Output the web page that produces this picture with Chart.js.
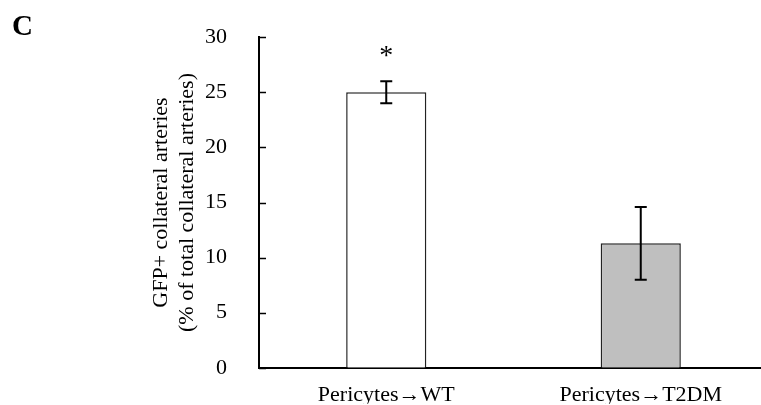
<!DOCTYPE html>
<html>
<head>
<meta charset="utf-8">
<script src="https://cdn.jsdelivr.net/npm/chart.js@4"></script>
<style>
  html, body { margin: 0; padding: 0; background: #fff; overflow: hidden; }
  #wrap { width: 768px; height: 405px; }
</style>
</head>
<body>
<div id="wrap"><canvas id="myChart" width="768" height="405"></canvas></div>
<script>
const categories = ['Pericytes\u2192WT', 'Pericytes\u2192T2DM']
const means = [25.0, 11.3]
const errors = [1.0, 3.3]
const marks = ['*', '']
const yMin = 0
const yMax = 30
const yStep = 5

const serif = "'Liberation Serif', 'DejaVu Serif', serif"

// error bars, significance marks, inward ticks and panel letter
const extras = {
  id: 'extras',
  afterDatasetsDraw(chart) {
    const ctx = chart.ctx
    const x = chart.scales.x
    const y = chart.scales.y
    ctx.save()
    ctx.strokeStyle = '#000'
    ctx.lineWidth = 2
    means.forEach(function (m, i) {
      const cx = x.getPixelForValue(i)
      const top = y.getPixelForValue(m + errors[i])
      const bot = y.getPixelForValue(m - errors[i])
      ctx.beginPath()
      ctx.moveTo(cx, top); ctx.lineTo(cx, bot)
      ctx.moveTo(cx - 6, top); ctx.lineTo(cx + 6, top)
      ctx.moveTo(cx - 6, bot); ctx.lineTo(cx + 6, bot)
      ctx.stroke()
      if (marks[i]) {
        ctx.fillStyle = '#000'
        ctx.font = '28px ' + serif
        ctx.textAlign = 'center'
        ctx.textBaseline = 'alphabetic'
        ctx.fillText(marks[i], cx, top - 17)
      }
    })
    // inward tick marks
    ctx.lineWidth = 1.5
    y.ticks.forEach(function (t) {
      const py = Math.round(y.getPixelForValue(t.value)) + 0.5
      ctx.beginPath()
      ctx.moveTo(chart.chartArea.left, py)
      ctx.lineTo(chart.chartArea.left + 7, py)
      ctx.stroke()
    })
    ctx.fillStyle = '#000'
    ctx.font = 'bold 29px ' + serif
    ctx.textAlign = 'left'
    ctx.textBaseline = 'alphabetic'
    ctx.fillText('C', 12, 35)
    ctx.restore()
  }
}

const ctx = document.getElementById('myChart').getContext('2d')
const chart = new Chart(ctx, {
  type: 'bar',
  data: {
    labels: categories,
    datasets: [{
      data: means,
      backgroundColor: ['#ffffff', '#bfbfbf'],
      borderColor: '#222222',
      borderWidth: 1.5,
      borderSkipped: 'bottom',
      barPercentage: 0.315,
      categoryPercentage: 1
    }]
  },
  options: {
    responsive: false,
    animation: false,
    layout: { padding: { left: 148, top: 25, right: 0, bottom: 0 } },
    plugins: { legend: { display: false }, tooltip: { enabled: false } },
    scales: {
      x: {
        grid: { display: false },
        border: { color: '#000', width: 2 },
        ticks: { color: '#000', font: { family: serif, size: 22 }, padding: 6 },
        afterFit: function (scale) { scale.height = 36 }
      },
      y: {
        min: yMin,
        max: yMax,
        grid: { display: false },
        border: { color: '#000', width: 2 },
        ticks: { stepSize: yStep, color: '#000', font: { family: serif, size: 22 }, padding: 24 },
        title: {
          display: true,
          text: ['GFP+ collateral arteries', '(% of total collateral arteries)'],
          color: '#000',
          font: { family: serif, size: 22, lineHeight: 1.2 },
          padding: { top: 0, bottom: 12 }
        },
        afterFit: function (scale) { scale.width = 111 }
      }
    }
  },
  plugins: [extras]
})
</script>
</body>
</html>
